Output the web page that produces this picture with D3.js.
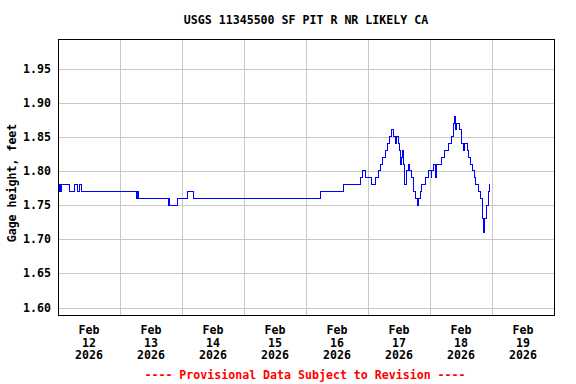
<!DOCTYPE html>
<html>
<head>
<meta charset="utf-8">
<script src="https://cdn.jsdelivr.net/npm/d3@7"></script>
<style>
  body { margin: 0; background: #fff; }
  svg text { font-family: "DejaVu Sans Mono", monospace; font-weight: bold; font-size: 11.6px; }
</style>
</head>
<body>
<svg id="chart" width="576" height="384"></svg>
<script>
// Hours since Feb 12 2026 00:00 and gage height (ft) from that time on
const hours = [0, 0.5, 1, 1.25, 4.5, 6.5, 7.5, 8.25, 9, 30.5, 30.75, 31, 42.75, 43, 43.25,
  46.25, 50, 52.5, 101.5, 110.5, 117, 117.75, 119, 121.5, 122.75, 124, 124.75, 125.5,
  126.75, 127.5, 128.25, 129.25, 129.75, 130.5, 131, 131.75, 132, 132.5, 133, 133.25,
  133.75, 134, 134.25, 135, 135.5, 136.25, 137, 137.5, 138.25, 139, 139.5, 140.25,
  140.75, 142.25, 143.25, 144.5, 144.75, 145.25, 146, 146.5, 148.5, 149.75, 151.25,
  152.5, 153, 153.5, 154, 154.25, 155.5, 156.25, 157, 157.25, 158.5, 159, 159.5, 160.5,
  161.25, 161.75, 162.75, 163.5, 164.25, 164.5, 164.75, 165.25, 165.75, 166.5, 167, 167.25];
const gageHeight = [1.77, 1.78, 1.77, 1.78, 1.77, 1.78, 1.77, 1.78, 1.77, 1.76, 1.77, 1.76, 1.75, 1.76, 1.75,
  1.76, 1.77, 1.76, 1.77, 1.78, 1.79, 1.80, 1.79, 1.78, 1.79, 1.80, 1.81, 1.82,
  1.83, 1.84, 1.85, 1.86, 1.85, 1.84, 1.85, 1.84, 1.83, 1.81, 1.82, 1.83,
  1.81, 1.80, 1.78, 1.80, 1.81, 1.80, 1.79, 1.77, 1.76, 1.75, 1.76, 1.77,
  1.78, 1.79, 1.80, 1.79, 1.80, 1.81, 1.79, 1.81, 1.82, 1.83, 1.84,
  1.85, 1.87, 1.88, 1.86, 1.87, 1.86, 1.84, 1.83, 1.84, 1.83, 1.82, 1.81, 1.80,
  1.79, 1.78, 1.77, 1.76, 1.75, 1.73, 1.71, 1.73, 1.75, 1.77, 1.78, 1.78];

const dayLabels = ['12', '13', '14', '15', '16', '17', '18', '19'];
const yTicks = [1.60, 1.65, 1.70, 1.75, 1.80, 1.85, 1.90, 1.95];

const start = new Date(2026, 1, 12);
const data = hours.map((h, i) => ({ t: new Date(start.getTime() + h * 3600e3), v: gageHeight[i] }));

// Plot area
const plotLeft = 58, plotRight = 555, plotTop = 39, plotBottom = 316;

const svg = d3.select('#chart');

const x = d3.scaleTime()
  .domain([start, new Date(2026, 1, 20)])
  .range([plotLeft, plotRight - 1]);
const y = d3.scaleLinear()
  .domain([1.60, 1.95])
  .range([307.5, 68.5]);

// Title
svg.append('text')
  .attr('x', 306).attr('y', 24)
  .attr('text-anchor', 'middle')
  .text('USGS 11345500 SF PIT R NR LIKELY CA');

// Grid
const days = d3.timeDay.range(d3.timeDay.offset(start, 1), new Date(2026, 1, 20));
svg.append('g').selectAll('line').data(days).join('line')
  .attr('x1', d => Math.round(x(d)) + 0.5).attr('x2', d => Math.round(x(d)) + 0.5)
  .attr('y1', plotTop).attr('y2', plotBottom)
  .attr('stroke', '#c8c8c8');
svg.append('g').selectAll('line').data(yTicks).join('line')
  .attr('x1', plotLeft).attr('x2', plotRight)
  .attr('y1', d => Math.round(y(d)) + 0.5).attr('y2', d => Math.round(y(d)) + 0.5)
  .attr('stroke', '#c8c8c8');

// Y tick labels
svg.append('g').selectAll('text').data(yTicks).join('text')
  .attr('x', 51).attr('y', d => y(d) + 4)
  .attr('text-anchor', 'end')
  .text(d => d.toFixed(2));

// Y axis title
svg.append('text')
  .attr('transform', 'translate(16,183) rotate(-90)')
  .attr('text-anchor', 'middle')
  .text('Gage height, feet');

// X labels at noon of each day
const noon = dayLabels.map((d, i) => new Date(2026, 1, 12 + i, 12));
const xl = svg.append('g').selectAll('text').data(noon).join('text')
  .attr('text-anchor', 'middle')
  .attr('x', d => x(d));
xl.append('tspan').attr('x', d => x(d)).attr('y', 334).text('Feb');
xl.append('tspan').attr('x', d => x(d)).attr('dy', 12.7).text((d, i) => dayLabels[i]);
xl.append('tspan').attr('x', d => x(d)).attr('dy', 12.7).text('2026');

// Data line
svg.append('clipPath').attr('id', 'clip')
  .append('rect').attr('x', plotLeft).attr('y', plotTop)
  .attr('width', plotRight - plotLeft).attr('height', plotBottom - plotTop);
svg.append('path')
  .datum(data)
  .attr('clip-path', 'url(#clip)')
  .attr('fill', 'none')
  .attr('stroke', '#0000ff')
  .attr('stroke-width', 1)
  .attr('shape-rendering', 'crispEdges')
  .attr('d', d3.line().x(d => x(d.t)).y(d => y(d.v)).curve(d3.curveStepAfter));

// Frame
svg.append('rect')
  .attr('x', plotLeft + 0.5).attr('y', plotTop + 0.5)
  .attr('width', plotRight - plotLeft - 1).attr('height', plotBottom - plotTop - 1)
  .attr('fill', 'none').attr('stroke', '#000');

// Footer
svg.append('text')
  .attr('x', 305).attr('y', 379)
  .attr('text-anchor', 'middle')
  .attr('fill', '#ff0000')
  .text('---- Provisional Data Subject to Revision ----');
</script>
</body>
</html>
